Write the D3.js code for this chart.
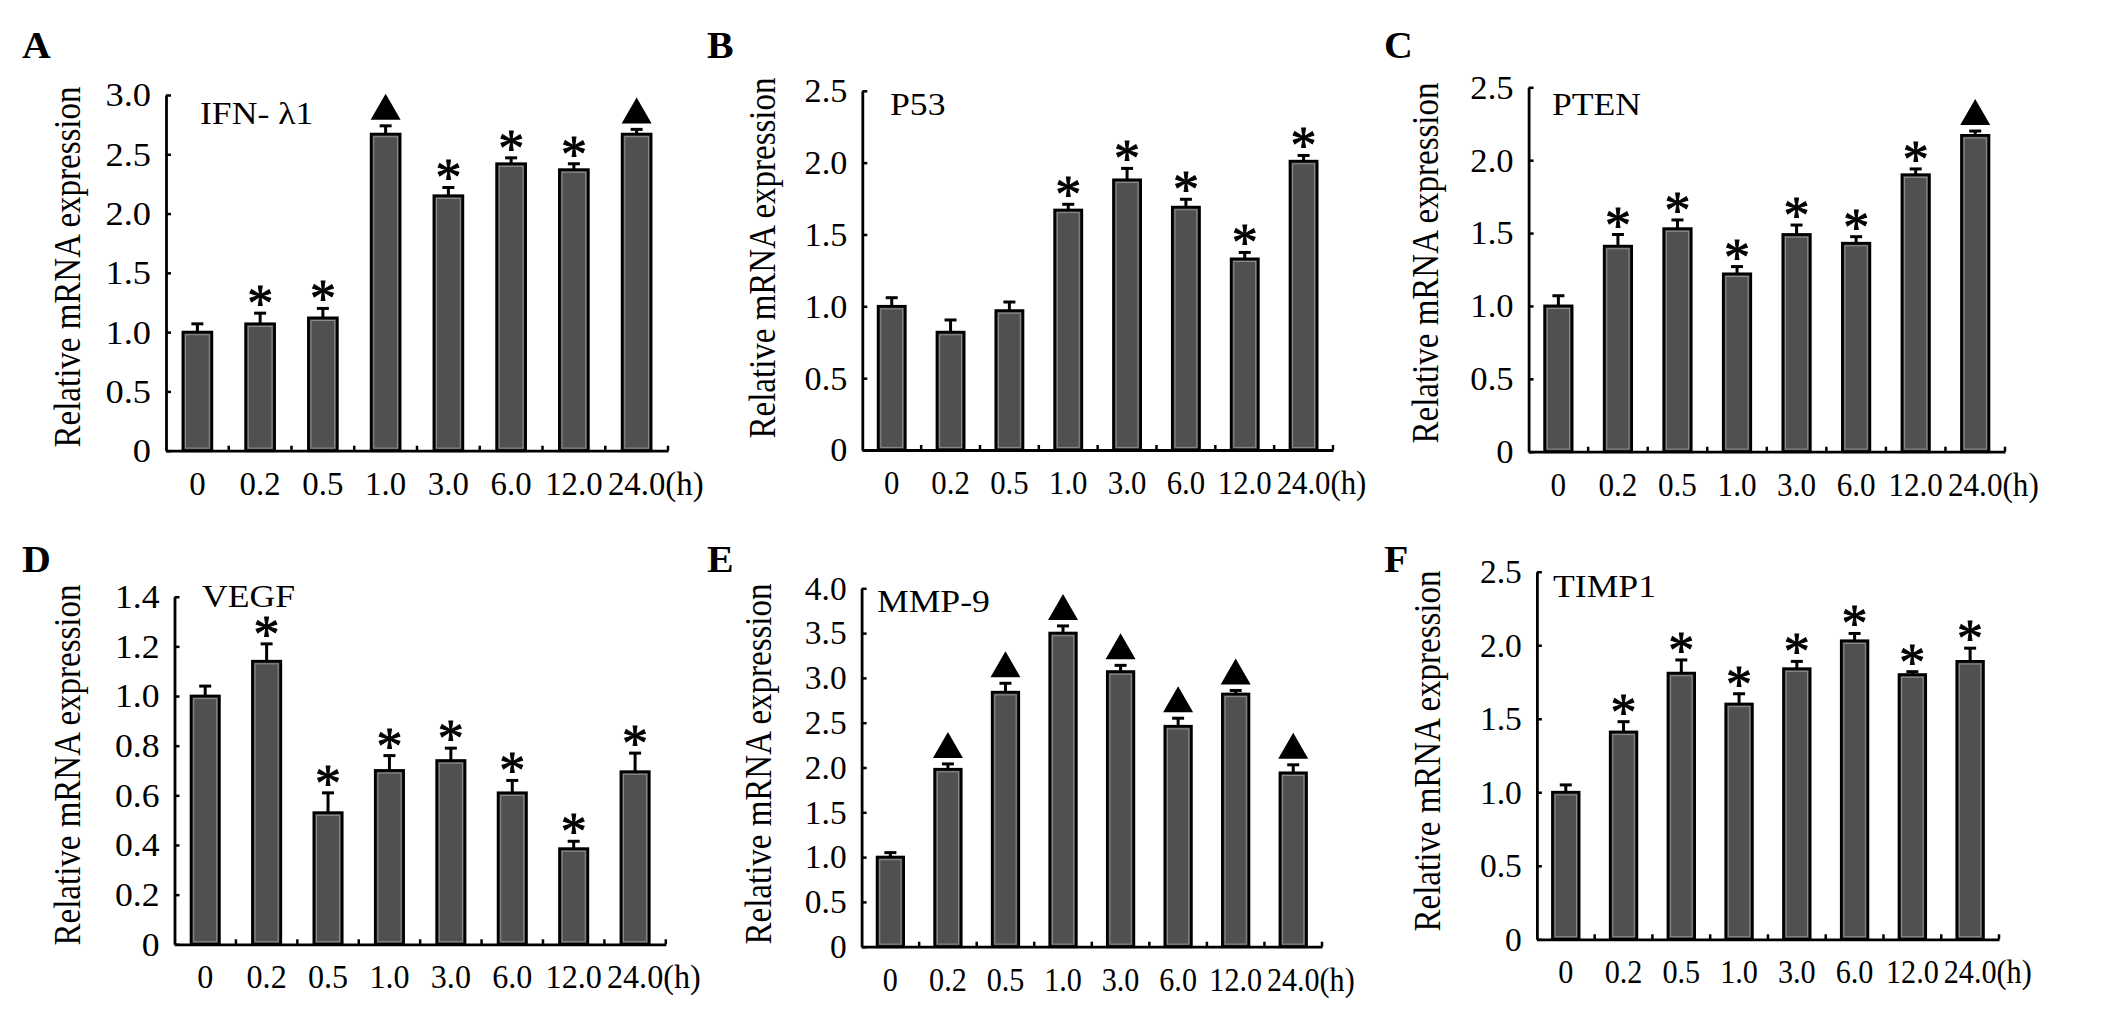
<!DOCTYPE html>
<html><head><meta charset="utf-8">
<script src="https://cdn.jsdelivr.net/npm/d3@7"></script>
<style>html,body{margin:0;padding:0;background:#fff;} svg{display:block;background:#fff}</style>
</head><body>
<svg id="chart" width="2126" height="1013"></svg>
<script>
// ---------------- DATA ----------------
const categories = ["0","0.2","0.5","1.0","3.0","6.0","12.0","24.0"];
const unitLabel = "(h)";
const yAxisTitle = "Relative mRNA expression";
const panelLetters = ["A","B","C","D","E","F"];
const geneNames = ["IFN- λ1","P53","PTEN","VEGF","MMP-9","TIMP1"];

const ifnMeans   = [1.00,1.07,1.12,2.67,2.15,2.42,2.37,2.67];
const ifnErrors  = [0.07,0.09,0.08,0.07,0.07,0.05,0.05,0.04];
const ifnMarks   = ["","*","*","▲","*","*","*","▲"];

const p53Means   = [1.00,0.82,0.97,1.67,1.88,1.69,1.33,2.01];
const p53Errors  = [0.06,0.085,0.06,0.04,0.08,0.055,0.045,0.04];
const p53Marks   = ["","","","*","*","*","*","*"];

const ptenMeans  = [1.00,1.41,1.53,1.22,1.49,1.43,1.90,2.17];
const ptenErrors = [0.07,0.08,0.06,0.05,0.065,0.045,0.04,0.03];
const ptenMarks  = ["","*","*","*","*","*","*","▲"];

const vegfMeans  = [1.00,1.14,0.53,0.70,0.74,0.61,0.385,0.695];
const vegfErrors = [0.04,0.07,0.08,0.06,0.05,0.05,0.03,0.075];
const vegfMarks  = ["","*","*","*","*","*","*","*"];

const mmpMeans   = [1.00,1.98,2.84,3.50,3.07,2.46,2.82,1.94];
const mmpErrors  = [0.05,0.06,0.10,0.08,0.07,0.09,0.04,0.09];
const mmpMarks   = ["","▲","▲","▲","▲","▲","▲","▲"];

const timpMeans  = [1.00,1.41,1.81,1.60,1.84,2.03,1.80,1.89];
const timpErrors = [0.05,0.07,0.09,0.07,0.05,0.05,0.02,0.09];
const timpMarks  = ["","*","*","*","*","*","*","*"];

const yMaxima = [3.0,2.5,2.5,1.4,4.0,2.5];
const yTickSteps = [0.5,0.5,0.5,0.2,0.5,0.5];

const panelMeans  = [ifnMeans,p53Means,ptenMeans,vegfMeans,mmpMeans,timpMeans];
const panelErrors = [ifnErrors,p53Errors,ptenErrors,vegfErrors,mmpErrors,timpErrors];
const panelMarks  = [ifnMarks,p53Marks,ptenMarks,vegfMarks,mmpMarks,timpMarks];

// ---------------- LAYOUT ----------------
const layout = [
  {left:166,   top:95,    zero:450.7, right:668,  letterX:22,   letterY:58,  geneX:200,  geneY:124, labX:80,   labY:267},
  {left:862.3, top:90.8,  zero:450,   right:1333, letterX:707,  letterY:58,  geneX:890,  geneY:115, labX:775,  labY:258},
  {left:1528.6,top:87.3,  zero:451.7, right:2005, letterX:1384, letterY:58,  geneX:1552, geneY:115, labX:1438, labY:263},
  {left:174.5, top:596.7, zero:944.3, right:665.8,letterX:22,   letterY:572, geneX:202,  geneY:607, labX:80,   labY:765},
  {left:861.6, top:588.3, zero:946.7, right:1322, letterX:707,  letterY:572, geneX:877,  geneY:612, labX:771,  labY:764},
  {left:1536.9,top:571.7, zero:939.3, right:1999, letterX:1384, letterY:572, geneX:1553, geneY:597, labX:1440, labY:751}
];
const FONT = "'Liberation Serif','Times New Roman',serif";
const SX = 1.15;
const TICK_FS = 34;

const svg = d3.select("#chart");
svg.append("rect").attr("width",2126).attr("height",1013).attr("fill","#fff");

function stext(g, x, y, str, size, sx, anchor, weight){
  return g.append("text")
    .attr("transform", `translate(${x},${y}) scale(${sx},1)`)
    .attr("text-anchor", anchor)
    .attr("font-family", FONT)
    .attr("font-size", size)
    .attr("font-weight", weight || "normal")
    .attr("fill", "#000")
    .text(str);
}

panelLetters.forEach((letter, pi) => {
  const L = layout[pi];
  const means = panelMeans[pi], errs = panelErrors[pi], marks = panelMarks[pi];
  const g = svg.append("g");

  const y = d3.scaleLinear().domain([0, yMaxima[pi]]).range([L.zero, L.top]);
  const x = d3.scaleBand().domain(categories).range([L.left, L.right])
              .paddingInner(0.54).paddingOuter(0.27);
  const ysx = x.step() / 58.5;   // y tick-label horizontal scale
  const xsx = x.step() / 65;     // x tick-label horizontal scale (condensed)

  // panel letter
  stext(g, L.letterX, L.letterY, letter, 38, 1.05, "start", "bold");
  // gene name
  stext(g, L.geneX, L.geneY, geneNames[pi], 31, SX, "start");
  // y-axis title
  g.append("text")
    .attr("transform", `translate(${L.labX},${L.labY}) scale(${SX},1) rotate(-90)`)
    .attr("text-anchor","middle").attr("font-family",FONT).attr("font-size",33)
    .attr("fill","#000").text(yAxisTitle);

  // y axis
  const yTicks = d3.range(0, yMaxima[pi] + 1e-9, yTickSteps[pi]);
  const pad = 15 / ysx;
  const gy = g.append("g").attr("transform", `translate(${L.left},0)`)
    .call(d3.axisLeft(y).tickValues(yTicks).tickSize(-5).tickSizeOuter(0).tickPadding(pad)
          .tickFormat(d => d === 0 ? "0" : d.toFixed(1)));
  gy.attr("font-family", FONT).attr("font-size", TICK_FS);
  gy.select(".domain").attr("stroke","#000").attr("stroke-width",2.8);
  gy.selectAll(".tick line").attr("stroke","#000").attr("stroke-width",2.5);
  gy.selectAll(".tick text").attr("fill","#000").attr("transform",`scale(${ysx},1)`);

  // bars
  g.selectAll("rect.bar").data(means).join("rect").attr("class","bar")
    .attr("x",(d,i)=>x(categories[i])).attr("y",d=>y(d))
    .attr("width",x.bandwidth()).attr("height",d=>y(0)-y(d))
    .attr("fill","#505050").attr("stroke","#000").attr("stroke-width",2.8);
  g.selectAll("rect.hl").data(means).join("rect").attr("class","hl")
    .attr("x",(d,i)=>x(categories[i])+2.6).attr("y",d=>y(d)+2.6)
    .attr("width",x.bandwidth()-5.2).attr("height",d=>Math.max(0,y(0)-y(d)-5.2))
    .attr("fill","none").attr("stroke","#8e8e8e").attr("stroke-width",1);

  // error bars
  const cx = i => x(categories[i]) + x.bandwidth()/2;
  g.selectAll("line.err").data(means).join("line").attr("class","err")
    .attr("x1",(d,i)=>cx(i)).attr("x2",(d,i)=>cx(i))
    .attr("y1",d=>y(d)).attr("y2",(d,i)=>y(d+errs[i]))
    .attr("stroke","#000").attr("stroke-width",3);
  g.selectAll("line.cap").data(means).join("line").attr("class","cap")
    .attr("x1",(d,i)=>cx(i)-6).attr("x2",(d,i)=>cx(i)+6)
    .attr("y1",(d,i)=>y(d+errs[i])).attr("y2",(d,i)=>y(d+errs[i]))
    .attr("stroke","#000").attr("stroke-width",3);

  // significance marks
  means.forEach((d,i) => {
    const topY = y(d + errs[i]);
    if (marks[i] === "*") {
      g.append("text").attr("x",cx(i)).attr("y",topY + 8)
        .attr("text-anchor","middle").attr("font-family",FONT).attr("font-size",52)
        .attr("fill","#000").attr("stroke","#000").attr("stroke-width",0.9).text("*");
    } else if (marks[i] === "▲") {
      const b = topY - 6;
      g.append("path").attr("d",`M${cx(i)-15},${b}L${cx(i)+15},${b}L${cx(i)},${b-26}Z`)
        .attr("fill","#000");
    }
  });

  // x axis
  const gx = g.append("g").attr("transform",`translate(0,${L.zero})`)
    .call(d3.axisBottom(x).tickSize(0).tickSizeOuter(0).tickPadding(20));
  gx.attr("font-family", FONT).attr("font-size", TICK_FS);
  gx.select(".domain").attr("stroke","#000").attr("stroke-width",2.8);
  gx.selectAll(".tick text").attr("fill","#000").attr("transform",`scale(${xsx},1)`);
  // boundary ticks
  const step = x.step();
  const bounds = categories.map((c,i)=> x(c) + x.bandwidth()/2 + step/2);
  g.selectAll("line.bt").data(bounds).join("line").attr("class","bt")
    .attr("x1",d=>d).attr("x2",d=>d).attr("y1",L.zero).attr("y2",L.zero-5)
    .attr("stroke","#000").attr("stroke-width",2.5);
  // unit "(h)" after the last label
  const lastText = gx.selectAll(".tick text").filter((d,i,n)=> i === n.length-1);
  const w = lastText.node().getComputedTextLength() * xsx;
  const lastCx = cx(categories.length-1);
  stext(g, lastCx + w/2, L.zero + 20 + 0.71*TICK_FS, unitLabel, TICK_FS, xsx, "start");
});
</script>
</body></html>
